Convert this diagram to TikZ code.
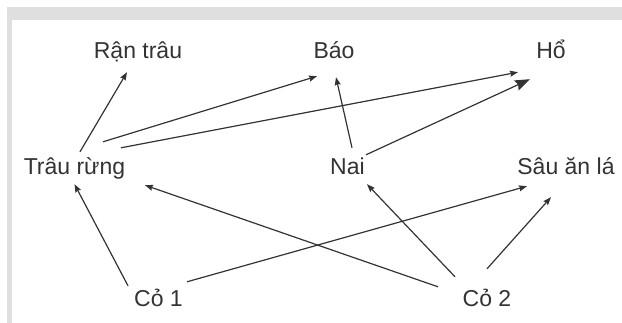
\documentclass[tikz,border=0pt]{standalone}
\usepackage{fontspec}
\setmainfont{Liberation Sans}
\usetikzlibrary{arrows.meta}
\tikzset{animal/.style = {anchor = base, inner sep = 0pt, text height = 16pt, text depth = 0pt, font = \fontsize{23}{26}\selectfont, text = black!80}}
\tikzset{arrow/.style = {line width = 1.2pt, draw = black!80, -{Stealth[length = 8pt, width = 6pt, inset = 1pt]}}}
\tikzset{bigarrow/.style = {arrow, -{Stealth[length = 15pt, width = 11pt, inset = 2pt]}}}

\begin{document}
\begin{tikzpicture}[x = 1pt, y = -1pt]
\useasboundingbox (0, 0) rectangle (622, 323);

%FRAME
\fill [gray!25] (7, 7) rectangle (622, 20);
\fill [gray!25] (7, 20) rectangle (12, 323);

%NODES
\node (rantrau) [animal] at (138, 59) {Rận trâu};
\node (bao) [animal] at (334, 59) {Báo};
\node (ho) [animal] at (551, 59) {Hổ};
\node (traurung) [animal] at (74.5, 175) {Trâu rừng};
\node (nai) [animal] at (347.5, 175) {Nai};
\node (sauanla) [animal] at (566, 175) {Sâu ăn lá};
\node (co1) [animal] at (158.5, 307) {Cỏ 1};
\node (co2) [animal] at (487, 307) {Cỏ 2};

%ARROWS
\draw [arrow] ([xshift = 5.5pt, yshift = 7pt]traurung.north) -- ([xshift = -11pt, yshift = -13pt]rantrau.south);
\draw [arrow] ([xshift = 28.5pt, yshift = 17pt]traurung.north) -- ([xshift = -17pt, yshift = -17pt]bao.south);
\draw [arrow] ([xshift = 46.5pt, yshift = 11pt]traurung.north) -- ([xshift = -33pt, yshift = -13pt]ho.south);
\draw [bigarrow] ([xshift = 18.5pt, yshift = 4pt]nai.north) -- ([xshift = -21pt, yshift = -20pt]ho.south);
\draw [arrow] ([xshift = 4.5pt, yshift = 11pt]nai.north) -- ([xshift = 2pt, yshift = -18pt]bao.south);
\draw [arrow] ([xshift = -30.5pt, yshift = 5pt]co1.north) -- ([yshift = -9pt]traurung.south);
\draw [arrow] ([xshift = 28.5pt, yshift = 9pt]co1.north) -- ([xshift = -39pt, yshift = -11pt]sauanla.south);
\draw [arrow] ([xshift = -49pt, yshift = 4pt]co2.north) -- ([xshift = 70.5pt, yshift = -10pt]traurung.south);
\draw [arrow] ([xshift = -32pt, yshift = 14pt]co2.north) -- ([xshift = 19.5pt, yshift = -9pt]nai.south);
\draw [arrow] ([yshift = 22pt]co2.north) -- ([xshift = -15pt, yshift = -22pt]sauanla.south);

\end{tikzpicture}
\end{document}
